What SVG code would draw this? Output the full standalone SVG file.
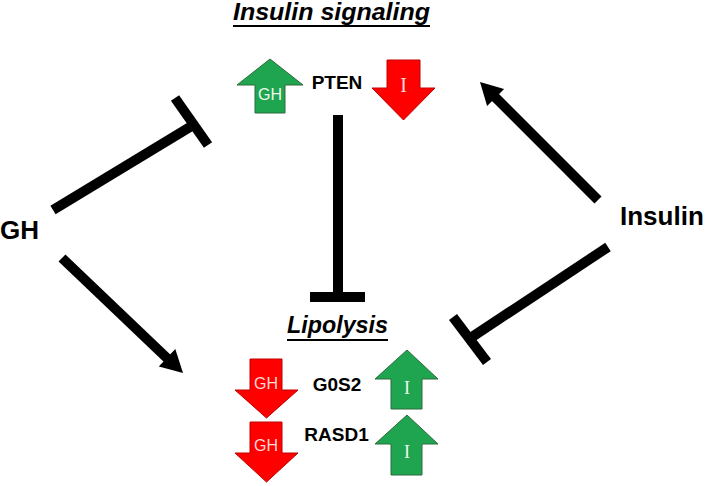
<svg xmlns="http://www.w3.org/2000/svg" width="709" height="486" viewBox="0 0 709 486">
<style>
.lbl{font-family:"Liberation Sans",Arial,sans-serif;font-weight:bold;fill:#000}
.ttl{font-family:"Liberation Sans",Arial,sans-serif;font-weight:bold;font-style:italic;font-size:23px;fill:#000}
.gin{font-family:"Liberation Sans",Arial,sans-serif;font-size:16px;text-anchor:middle}
.iin{font-family:"Liberation Serif","Times New Roman",serif;text-anchor:middle}
.up{fill:#1fa54f;stroke:#2d6b3c;stroke-width:1}
.dn{fill:#ff0000;stroke:#c00000;stroke-width:1}
.ln{stroke:#000;stroke-width:10;fill:none;stroke-linecap:butt}
.ul{stroke:#000;stroke-width:2}
</style>
<rect width="709" height="486" fill="#fff"/>
<g id="title-insulin-signaling">
<text class="ttl" x="233" y="20" textLength="197" lengthAdjust="spacingAndGlyphs">Insulin signaling</text>
<line class="ul" x1="233" y1="26" x2="430" y2="26"/>
</g>
<g id="title-lipolysis">
<text class="ttl" x="287" y="333" textLength="101" lengthAdjust="spacingAndGlyphs">Lipolysis</text>
<line class="ul" x1="287" y1="340" x2="388" y2="340"/>
</g>
<g id="node-gh">
<text class="lbl" x="0" y="239" font-size="26">GH</text>
</g>
<g id="node-insulin">
<text class="lbl" x="620" y="225" font-size="26">Insulin</text>
</g>
<g id="node-pten">
<polygon class="up" points="270,59 303,85 285,85 285,113 255,113 255,85 237,85"/>
<text class="gin" x="270" y="100" fill="#eef8ee">GH</text>
<text class="lbl" x="337" y="89" font-size="19" text-anchor="middle">PTEN</text>
<polygon class="dn" points="387,60 420,60 420,88 435,88 403.5,120 372,88 387,88"/>
<text class="iin" x="403.5" y="92" font-size="20" fill="#ffd8d8">I</text>
</g>
<g id="node-g0s2">
<polygon class="dn" points="250,359 282,359 282,390 298,390 266.5,418 235,390 250,390"/>
<text class="gin" x="266" y="389" fill="#ffd8d8">GH</text>
<text class="lbl" x="337" y="391" font-size="19" text-anchor="middle">G0S2</text>
<polygon class="up" points="407,350 438,379 422,379 422,409 391,409 391,379 375,379"/>
<text class="iin" x="407" y="394" font-size="18" fill="#eef8ee">I</text>
</g>
<g id="node-rasd1">
<polygon class="dn" points="250,422 282,422 282,453 298,453 266.5,482 235,453 250,453"/>
<text class="gin" x="266" y="451" fill="#ffd8d8">GH</text>
<text class="lbl" x="336.5" y="441" font-size="19" text-anchor="middle">RASD1</text>
<polygon class="up" points="407,415 438,444 422,444 422,475 391,475 391,444 375,444"/>
<text class="iin" x="407" y="458" font-size="18" fill="#eef8ee">I</text>
</g>
<g id="connectors">
<line class="ln" x1="338" y1="115" x2="338" y2="297"/>
<line class="ln" x1="310" y1="297" x2="365" y2="297"/>
<line class="ln" x1="53" y1="210" x2="190" y2="127"/>
<line class="ln" x1="175" y1="98" x2="208" y2="145"/>
<line class="ln" x1="62" y1="258" x2="170" y2="361"/>
<polygon points="183,373 158.8,366.5 175.3,349.1" fill="#000"/>
<line class="ln" x1="598" y1="200" x2="493" y2="95"/>
<polygon points="480,82 504.1,89.1 487.1,106.1" fill="#000"/>
<line class="ln" x1="608" y1="247" x2="472" y2="337"/>
<line class="ln" x1="453" y1="317" x2="487" y2="362"/>
</g>
</svg>
